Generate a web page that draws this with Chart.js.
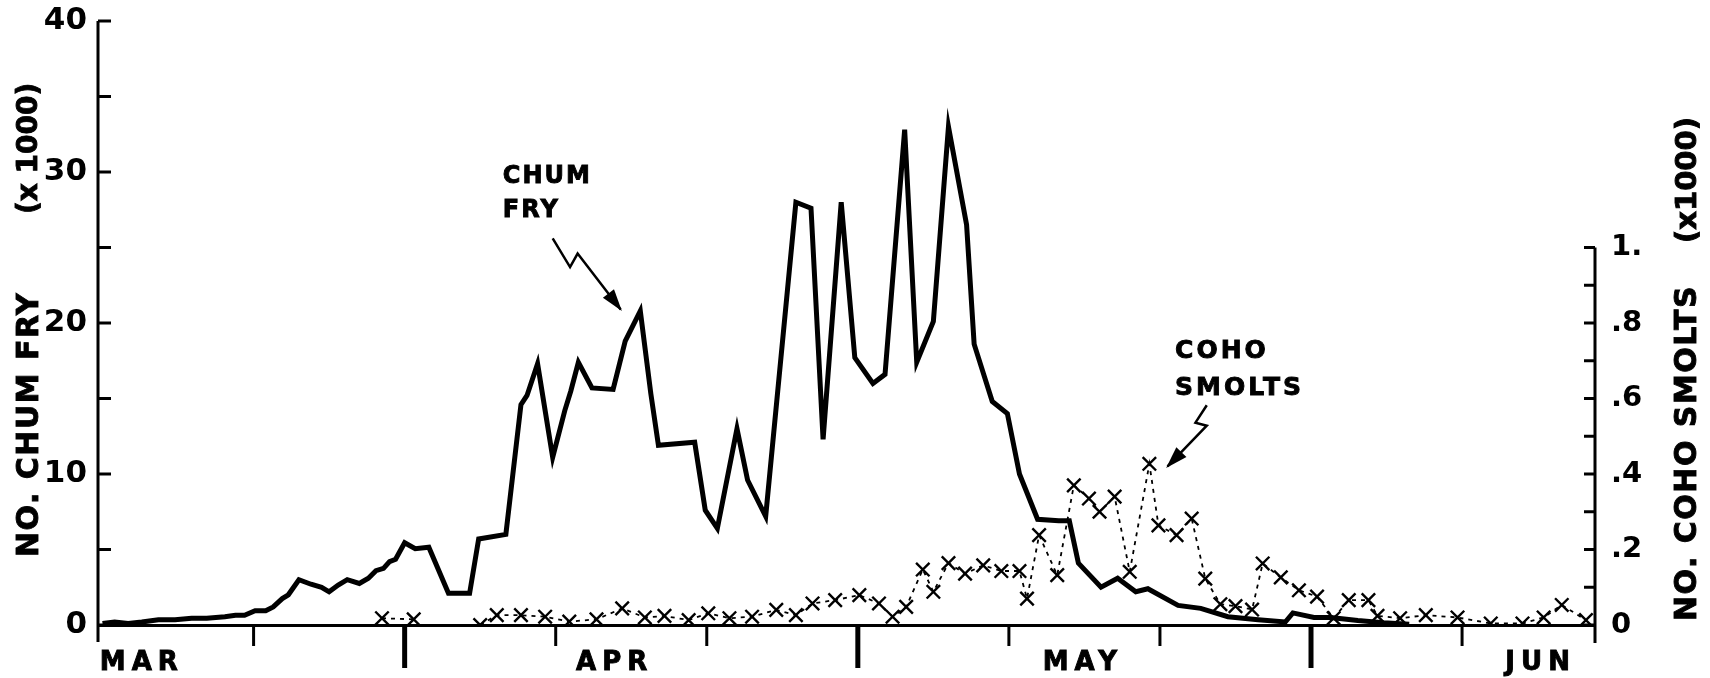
<!DOCTYPE html>
<html>
<head>
<meta charset="utf-8">
<title>Chum fry and coho smolts</title>
<script src="https://cdn.jsdelivr.net/npm/chart.js@4.4.1/dist/chart.umd.min.js"></script>
<style>
  html, body { margin: 0; padding: 0; background: #fff; }
  #wrap { width: 1710px; height: 678px; }
</style>
</head>
<body>
<div id="wrap"><canvas id="chart" width="1710" height="678"></canvas></div>
<script>
// Days are counted from 1 April (negative = March)
const chumDay = [-20.0, -19.2, -18.3, -17.4, -16.3, -15.2, -14.1, -13.1, -11.9, -11.2,
    -10.6, -9.9, -9.2, -8.7, -8.1, -7.7, -7.0, -6.2, -5.5, -5.0,
    -4.4, -3.8, -3.0, -2.4, -1.9, -1.4, -1.0, -0.6, 0.0, 0.7,
    1.6, 2.9, 4.3, 4.9, 6.7, 7.7, 8.1, 8.8, 9.8, 10.6,
    11.0, 11.5, 12.4, 13.8, 14.6, 15.6, 16.3, 16.8, 19.2, 19.9,
    20.7, 22.0, 22.7, 23.9, 25.9, 26.9, 27.7, 28.9, 29.8, 31.0,
    31.8, 33.1, 33.9, 35.0, 36.0, 37.2, 37.7, 38.9, 39.9, 40.7,
    41.9, 43.3, 44.0, 44.6, 46.1, 47.2, 48.4, 49.2, 51.2, 52.7,
    54.5, 56.5, 58.3, 58.8, 60.2, 61.3, 63.1, 64.8, 66.5];
// chum fry, thousands
const chumFry = [0.1, 0.2, 0.1, 0.2, 0.35, 0.35, 0.45, 0.45, 0.55, 0.65,
    0.65, 0.95, 0.95, 1.2, 1.75, 2.0, 3.0, 2.7, 2.5, 2.2,
    2.65, 3.0, 2.75, 3.1, 3.6, 3.75, 4.2, 4.35, 5.45, 5.05,
    5.15, 2.1, 2.1, 5.7, 6.0, 14.6, 15.2, 17.3, 11.1, 14.2,
    15.5, 17.4, 15.7, 15.6, 18.8, 20.8, 15.3, 11.9, 12.1, 7.6,
    6.4, 13.0, 9.6, 7.2, 28.0, 27.6, 12.3, 28.0, 17.7, 16.0,
    16.6, 32.8, 17.4, 20.1, 33.0, 26.5, 18.6, 14.8, 14.0, 10.0,
    7.0, 6.9, 6.9, 4.1, 2.5, 3.1, 2.2, 2.4, 1.3, 1.1,
    0.55, 0.35, 0.2, 0.8, 0.5, 0.5, 0.3, 0.15, 0.05];

const cohoDay = [-1.5, 0.6, 2.8, 5.0, 6.1, 7.7, 9.3, 10.9, 12.7, 14.4,
    15.9, 17.2, 18.8, 20.1, 21.5, 23.0, 24.6, 25.9, 27.0, 28.5,
    30.1, 31.4, 32.3, 33.2, 34.3, 35.0, 36.0, 37.1, 38.3, 39.5,
    40.7, 41.2, 42.0, 43.2, 44.3, 45.3, 46.0, 47.0, 48.0, 49.3,
    49.9, 51.1, 52.1, 53.0, 54.0, 55.0, 56.1, 56.8, 58.0, 59.2,
    60.4, 61.5, 62.5, 63.8, 64.4, 65.9, 67.6, 69.7, 71.9, 74.0,
    75.4, 76.6, 78.2];
// coho smolts, thousands (null = gap in the line)
const cohoSmolts = [0.018, 0.015, null, 0.0, 0.026, 0.026, 0.022, 0.009, 0.015, 0.044,
    0.02, 0.024, 0.013, 0.031, 0.018, 0.022, 0.04, 0.026, 0.057, 0.066,
    0.079, 0.057, 0.022, 0.048, 0.147, 0.088, 0.164, 0.136, 0.158, 0.143,
    0.143, 0.07, 0.238, 0.132, 0.37, 0.335, 0.30, 0.34, 0.141, 0.427,
    0.264, 0.238, 0.282, 0.123, 0.055, 0.05, 0.041, 0.163, 0.126, 0.092,
    0.075, 0.018, 0.066, 0.066, 0.024, 0.018, 0.026, 0.02, 0.004, 0.004,
    0.02, 0.053, 0.013];

const months = ['MAR', 'APR', 'MAY', 'JUN'];
const monthPos = [-17.4, 13.9, 44.9, 75.2];
const dayTicks = [-10, 0, 10, 20, 30, 40, 50, 60, 70];
const monthStarts = [0, 30, 60];
const chumTicks = [0, 5, 10, 15, 20, 25, 30, 35, 40];
const cohoTicks = [0, 0.1, 0.2, 0.3, 0.4, 0.5, 0.6, 0.7, 0.8, 0.9, 1.0];

const FONT = "'DejaVu Sans', 'Liberation Sans', sans-serif";

function seg(ctx, x1, y1, x2, y2) {
    ctx.beginPath();
    ctx.moveTo(x1, y1);
    ctx.lineTo(x2, y2);
    ctx.stroke();
}

// zig-zag leader with a filled arrow head on the last point
function arrow(ctx, pts) {
    ctx.lineWidth = 2.5;
    ctx.beginPath();
    pts.forEach((p, i) => i ? ctx.lineTo(p[0], p[1]) : ctx.moveTo(p[0], p[1]));
    ctx.stroke();
    const [ax, ay] = pts[pts.length - 2];
    const [bx, by] = pts[pts.length - 1];
    const a = Math.atan2(by - ay, bx - ax);
    const c = Math.cos(a), s = Math.sin(a);
    ctx.beginPath();
    ctx.moveTo(bx + 2 * c, by + 2 * s);
    ctx.lineTo(bx - 20 * c + 7 * s, by - 20 * s - 7 * c);
    ctx.lineTo(bx - 20 * c - 7 * s, by - 20 * s + 7 * c);
    ctx.closePath();
    ctx.fill();
}

// bold text with a thin outline so it reads as heavy as the print
function heavy(ctx, str, x, y) {
    ctx.fillText(str, x, y);
    ctx.strokeText(str, x, y);
}

function vtext(ctx, str, x, y) {
    ctx.save();
    ctx.translate(x, y);
    ctx.rotate(-Math.PI / 2);
    heavy(ctx, str, 0, 0);
    ctx.restore();
}

// axis lines, inward ticks, month names, titles and the two labels
const decor = {
    id: 'decor',
    afterDraw(chart) {
        const { ctx, chartArea: area } = chart;
        const { x, y, y2 } = chart.scales;
        ctx.save();
        ctx.strokeStyle = '#000';
        ctx.fillStyle = '#000';

        ctx.lineWidth = 3;
        seg(ctx, area.left, area.top, area.left, area.bottom + 17);
        y.ticks.forEach(t => {
            const py = y.getPixelForValue(t.value);
            seg(ctx, area.left, py, area.left + 13, py);
        });
        seg(ctx, area.right, y2.getPixelForValue(1), area.right, area.bottom + 18);
        y2.ticks.forEach(t => {
            const py = y2.getPixelForValue(t.value);
            seg(ctx, area.right - 11, py, area.right, py);
        });
        x.ticks.forEach(t => {
            const px = x.getPixelForValue(t.value);
            const major = monthStarts.includes(t.value);
            ctx.lineWidth = major ? 5 : 3;
            seg(ctx, px, area.bottom, px, area.bottom + (major ? 43 : 21));
        });

        ctx.lineWidth = 0.9;
        ctx.font = 'bold 26px ' + FONT;
        ctx.letterSpacing = '6px';
        ctx.textAlign = 'center';
        ctx.textBaseline = 'alphabetic';
        months.forEach((m, i) => heavy(ctx, m, x.getPixelForValue(monthPos[i]), 670));

        ctx.font = 'bold 30px ' + FONT;
        ctx.textAlign = 'left';
        ctx.textBaseline = 'middle';
        ctx.letterSpacing = '1.5px';
        vtext(ctx, 'NO. CHUM FRY', 30, 557);
        vtext(ctx, 'NO. COHO SMOLTS', 1688, 621);
        ctx.letterSpacing = '0px';
        ctx.font = 'bold 28px ' + FONT;
        vtext(ctx, '(x 1000)', 30, 214);
        ctx.font = 'bold 29px ' + FONT;
        vtext(ctx, '(x1000)', 1688, 243);

        ctx.font = 'bold 24px ' + FONT;
        ctx.letterSpacing = '2px';
        ctx.textBaseline = 'alphabetic';
        heavy(ctx, 'CHUM', x.getPixelForValue(6.5), y.getPixelForValue(29.3));
        heavy(ctx, 'FRY', x.getPixelForValue(6.5), y.getPixelForValue(27.0));
        ctx.font = 'bold 25px ' + FONT;
        ctx.letterSpacing = '3px';
        heavy(ctx, 'COHO', x.getPixelForValue(51.0), y.getPixelForValue(17.65));
        heavy(ctx, 'SMOLTS', x.getPixelForValue(51.0), y.getPixelForValue(15.2));

        const at = (d, v) => [x.getPixelForValue(d), y.getPixelForValue(v)];
        arrow(ctx, [at(9.8, 25.6), at(10.95, 23.7), at(11.45, 24.6), at(14.3, 20.9)]);
        arrow(ctx, [at(53.1, 14.55), at(52.35, 13.4), at(53.1, 13.2), at(50.5, 10.5)]);
        ctx.restore();
    }
};

const noPad = s => { s.paddingTop = 0; s.paddingBottom = 0; };

new Chart(document.getElementById('chart'), {
    type: 'line',
    data: {
        datasets: [{
            label: 'Chum fry',
            data: chumDay.map((d, i) => ({ x: d, y: chumFry[i] })),
            yAxisID: 'y',
            borderColor: '#000',
            borderWidth: 5,
            borderJoinStyle: 'miter',
            pointRadius: 0,
            tension: 0,
            fill: false
        }, {
            label: 'Coho smolts',
            data: cohoDay.map((d, i) => ({ x: d, y: cohoSmolts[i] })),
            yAxisID: 'y2',
            borderColor: '#000',
            borderWidth: 1.8,
            borderDash: [4, 5],
            pointStyle: 'crossRot',
            pointRadius: 9.5,
            pointBorderWidth: 2.4,
            pointBorderColor: '#000',
            tension: 0,
            spanGaps: false,
            fill: false
        }]
    },
    options: {
        responsive: false,
        animation: false,
        devicePixelRatio: 1,
        layout: { padding: { top: 21, left: 0, right: 0, bottom: 0 } },
        plugins: {
            legend: { display: false },
            tooltip: { enabled: false }
        },
        scales: {
            x: {
                type: 'linear',
                min: -20.3,
                max: 78.8,
                afterBuildTicks: s => { s.ticks = dayTicks.map(v => ({ value: v })); },
                afterFit: s => { s.height = 53; s.paddingLeft = 0; s.paddingRight = 0; },
                ticks: { display: false },
                grid: { display: false, drawTicks: false },
                border: { display: true, color: '#000', width: 3 }
            },
            y: {
                position: 'left',
                min: 0,
                max: 40,
                afterBuildTicks: s => { s.ticks = chumTicks.map(v => ({ value: v })); },
                afterFit: s => { s.width = 98; noPad(s); },
                ticks: {
                    autoSkip: false,
                    padding: 11,
                    color: '#000',
                    font: { family: FONT, size: 31, weight: 'bold' },
                    callback: v => (v % 10 === 0 ? String(v) : '')
                },
                grid: { display: false, drawTicks: false },
                border: { display: false }
            },
            y2: {
                position: 'right',
                min: 0,
                max: 1.6,
                afterBuildTicks: s => { s.ticks = cohoTicks.map(v => ({ value: v })); },
                afterFit: s => { s.width = 115; noPad(s); },
                ticks: {
                    autoSkip: false,
                    padding: 16,
                    color: '#000',
                    font: { family: FONT, size: 29, weight: 'bold' },
                    callback: v => {
                        const tenths = Math.round(v * 10);
                        if (tenths === 0) return '0';
                        if (tenths === 10) return '1.';
                        return tenths % 2 === 0 ? '.' + tenths : '';
                    }
                },
                grid: { display: false, drawTicks: false },
                border: { display: false }
            }
        }
    },
    plugins: [decor]
});
</script>
</body>
</html>
